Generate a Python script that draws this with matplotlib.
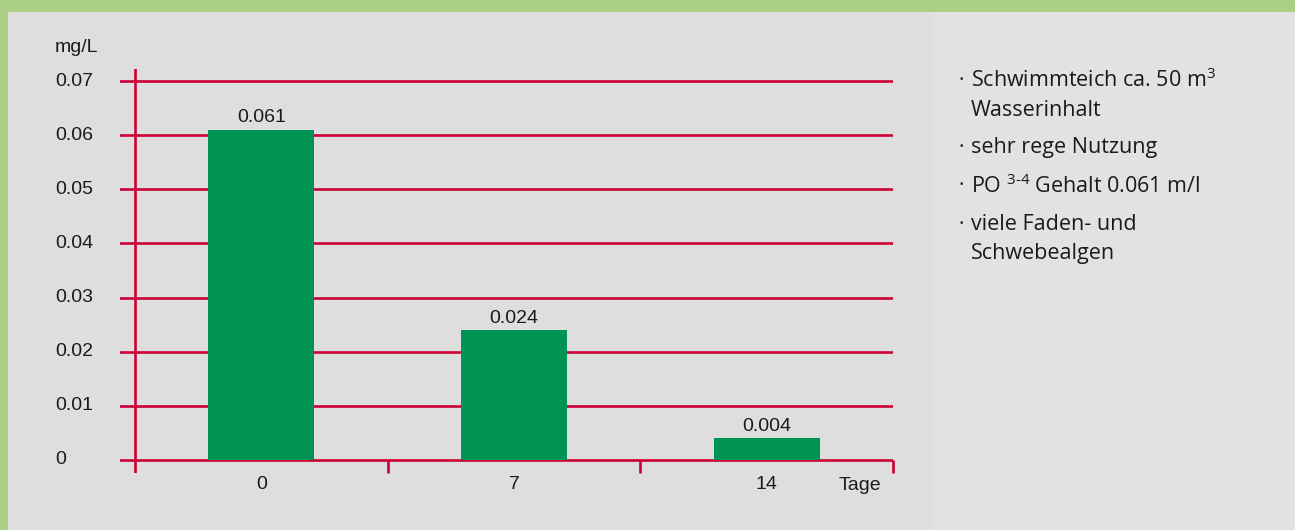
import matplotlib
matplotlib.use("Agg")
import matplotlib.pyplot as plt
from matplotlib.patches import Rectangle
from matplotlib.transforms import blended_transform_factory

plt.rcParams["mathtext.fontset"] = "custom"
plt.rcParams["mathtext.rm"] = "Open Sans"
plt.rcParams["mathtext.default"] = "regular"

# Phosphate concentration in the swimming pond over time
days = ["0", "7", "14"]
values = [0.061, 0.024, 0.004]
value_labels = ["0.061", "0.024", "0.004"]
y_ticks = [0, 0.01, 0.02, 0.03, 0.04, 0.05, 0.06, 0.07]
y_tick_labels = ["0", "0.01", "0.02", "0.03", "0.04", "0.05", "0.06", "0.07"]
notes = [
    ["Schwimmteich ca. 50 m$^{3}$", "Wasserinhalt"],
    ["sehr rege Nutzung"],
    ["PO $^{3\u20104}$ Gehalt 0.061 m/l"],
    ["viele Faden- und", "Schwebealgen"],
]

RED = "#cc0036"
GREEN_BAR = "#009454"
FRAME = "#abcf85"
PANEL_L = "#dedede"
PANEL_R = "#e1e2e4"
TEXT = "#1a1a1a"
LABEL_FONT = "Liberation Sans"
LABEL_SIZE = 14

W, H = 1295, 530
fig = plt.figure(figsize=(W / 100, H / 100), dpi=100, facecolor=FRAME)

# background panels
fig.patches.append(Rectangle((8 / W, 0), (933 - 8) / W, (H - 12) / H,
                             transform=fig.transFigure, facecolor=PANEL_L,
                             edgecolor="none", zorder=-5))
fig.patches.append(Rectangle((933 / W, 0), (W - 933) / W, (H - 12) / H,
                             transform=fig.transFigure, facecolor=PANEL_R,
                             edgecolor="none", zorder=-5))

# plotting area (pixels): y-axis at x=135, right end 893, zero at y=460, 0.07 at y=81
left_px, right_px = 120, 893
axis_px = 135
top_px, bot_px = 69, 473
ax = fig.add_axes([left_px / W, (H - bot_px) / H,
                   (right_px - left_px) / W, (bot_px - top_px) / H])
ax.set_facecolor("none")
n = len(days)
unit = (right_px - axis_px) / n
ax.set_xlim(-(axis_px - left_px) / unit, n)
ppy = (460 - 81) / 0.07
ax.set_ylim(-(bot_px - 460) / ppy, 0.07 + (81 - top_px) / ppy)
for s in ax.spines.values():
    s.set_visible(False)
ax.set_xticks([])
ax.set_yticks([])

lw = 1.9
tick_len = (bot_px - 460) / ppy
# horizontal grid lines (extend left past the axis like ticks)
for t in y_ticks:
    ax.axhline(t, color=RED, lw=lw, zorder=1)
# vertical axis
ax.axvline(0, color=RED, lw=lw, zorder=1)
# category boundary ticks below the baseline
for i in range(1, n + 1):
    ax.plot([i, i], [0, -tick_len], color=RED, lw=lw, clip_on=False,
            solid_capstyle="butt", zorder=1)

xs = [i + 0.5 for i in range(n)]
bars = ax.bar(xs, values, width=106 / unit, color=GREEN_BAR, zorder=2)
for x, v, lab in zip(xs, values, value_labels):
    ax.text(x, v + 0.0006, lab, ha="center", va="bottom", fontsize=LABEL_SIZE,
            family=LABEL_FONT, color=TEXT, zorder=3)

# y tick labels, left aligned
tr = blended_transform_factory(fig.transFigure, ax.transData)
for t, lab in zip(y_ticks, y_tick_labels):
    ax.text(55 / W, t, lab, transform=tr, ha="left", va="center",
            fontsize=LABEL_SIZE, family=LABEL_FONT, color=TEXT)
fig.text(55 / W, 1 - 47 / H, "mg/L", ha="left", va="center",
         fontsize=LABEL_SIZE, family=LABEL_FONT, color=TEXT)

# x labels
for x, d in zip(xs, days):
    ax.text(x, -0.0045, d, ha="center", va="center", fontsize=LABEL_SIZE,
            family=LABEL_FONT, color=TEXT)
fig.text(860 / W, 1 - 485 / H, "Tage", ha="center", va="center",
         fontsize=LABEL_SIZE, family=LABEL_FONT, color=TEXT)

# notes on the right
y = 80
for item in notes:
    fig.text(958 / W, 1 - y / H, "\u00b7", ha="left", va="center",
             fontsize=15, family="Open Sans", color=TEXT)
    for k, line in enumerate(item):
        fig.text(971 / W, 1 - y / H, line, ha="left", va="center",
                 fontsize=15.5, family="Open Sans", color=TEXT)
        y += 30
    y += 8

fig.savefig("out.png", dpi=100, facecolor=FRAME)
